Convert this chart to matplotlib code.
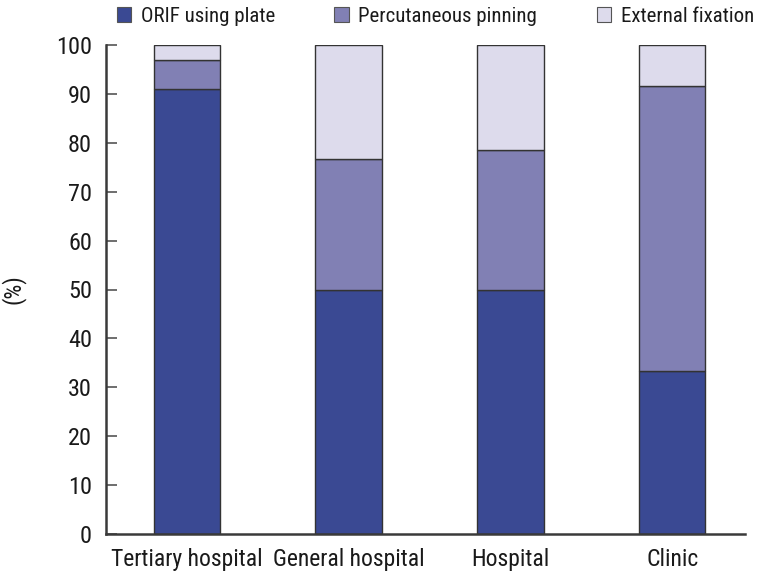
import matplotlib
matplotlib.use("Agg")
import matplotlib.pyplot as plt
from matplotlib.patches import Patch

categories = ["Tertiary hospital", "General hospital", "Hospital", "Clinic"]
orif = [90.9, 50.0, 50.0, 33.3]
percutaneous = [6.1, 26.7, 28.6, 58.3]
external = [3.0, 23.3, 21.4, 8.4]
series_names = ["ORIF using plate", "Percutaneous pinning", "External fixation"]
colors = ["#3a4993", "#8180b4", "#dddbec"]

plt.rcParams['font.family'] = ['Roboto Condensed', 'Archivo Narrow', 'PT Sans Narrow',
                               'Sofia Sans Semi Condensed', 'Liberation Sans', 'DejaVu Sans']

fig = plt.figure(figsize=(7.57, 5.74), dpi=100)
ax = fig.add_axes([106/757, 40/574, (745-106)/757, (534-45)/574])

x = list(range(len(categories)))
w = 0.41
edge = "#333333"
ax.bar(x, orif, w, color=colors[0], edgecolor=edge, linewidth=1)
ax.bar(x, percutaneous, w, bottom=orif, color=colors[1], edgecolor=edge, linewidth=1)
bottom2 = [a + b for a, b in zip(orif, percutaneous)]
ax.bar(x, external, w, bottom=bottom2, color=colors[2], edgecolor=edge, linewidth=1)

ax.set_xlim(-0.5, 3.45)
ax.set_ylim(0, 100)
ax.set_yticks(range(0, 101, 10))
ax.set_xticks(x)
ax.set_xticklabels(categories, fontsize=17)
ax.tick_params(axis='y', direction='in', length=8, width=1.2, color="#555555", labelsize=17.5,
               pad=10, labelcolor="#1a1a1a")
ax.tick_params(axis='x', length=0, labelsize=17, pad=10, labelcolor="#1a1a1a")
for s in ['top', 'right']:
    ax.spines[s].set_visible(False)
for s in ['left', 'bottom']:
    ax.spines[s].set_color("#3a3a3a")
    ax.spines[s].set_linewidth(1.8)
ax.set_ylabel("(%)", fontsize=17, labelpad=22, color="#1a1a1a")

handles = [Patch(facecolor=c, edgecolor="#555555", linewidth=0.8) for c in colors]
fig.legend(handles, series_names, loc='upper left', bbox_to_anchor=(98/757, 1.021), ncol=3,
           frameon=False, fontsize=15, handlelength=0.7, handleheight=0.7,
           handletextpad=0.45, columnspacing=2.85, labelcolor="#1a1a1a")

fig.savefig("out.png", dpi=100)
